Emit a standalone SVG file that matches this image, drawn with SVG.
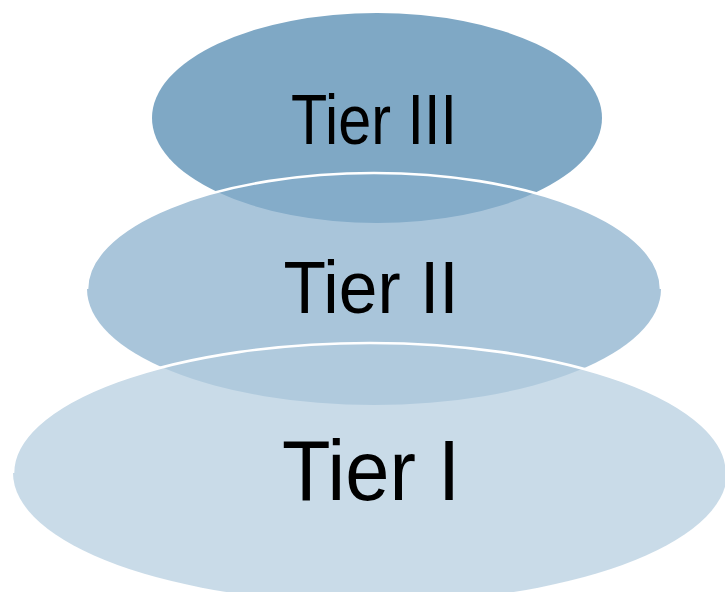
<svg xmlns="http://www.w3.org/2000/svg" width="725" height="592" viewBox="0 0 725 592">
  <style>
    .lbl { font-family: "Liberation Sans", Arial, sans-serif; fill: #000; text-anchor: middle; }
    .rim { fill: none; stroke: #ffffff; stroke-width: 2.6; }
  </style>
  <rect width="725" height="592" fill="#ffffff"/>
  <g id="tier3">
    <ellipse cx="377" cy="118" rx="225" ry="105" fill="#7fa8c5"/>
    <text class="lbl" x="374" y="144" font-size="71" textLength="166" lengthAdjust="spacingAndGlyphs">Tier III</text>
  </g>
  <g id="tier2">
    <ellipse cx="374" cy="289" rx="287" ry="116" fill="#86adcb" fill-opacity="0.71"/>
    <path class="rim" d="M 87 289 A 287 116 0 0 1 661 289"/>
    <text class="lbl" x="371" y="313" font-size="74" textLength="175" lengthAdjust="spacingAndGlyphs">Tier II</text>
  </g>
  <g id="tier1">
    <ellipse cx="370" cy="473" rx="357" ry="130" fill="#b3ccde" fill-opacity="0.71"/>
    <path class="rim" d="M 13 473 A 357 130 0 0 1 727 473"/>
    <text class="lbl" x="371" y="500" font-size="85" textLength="178" lengthAdjust="spacingAndGlyphs">Tier I</text>
  </g>
  <g id="connectors"/>
</svg>
